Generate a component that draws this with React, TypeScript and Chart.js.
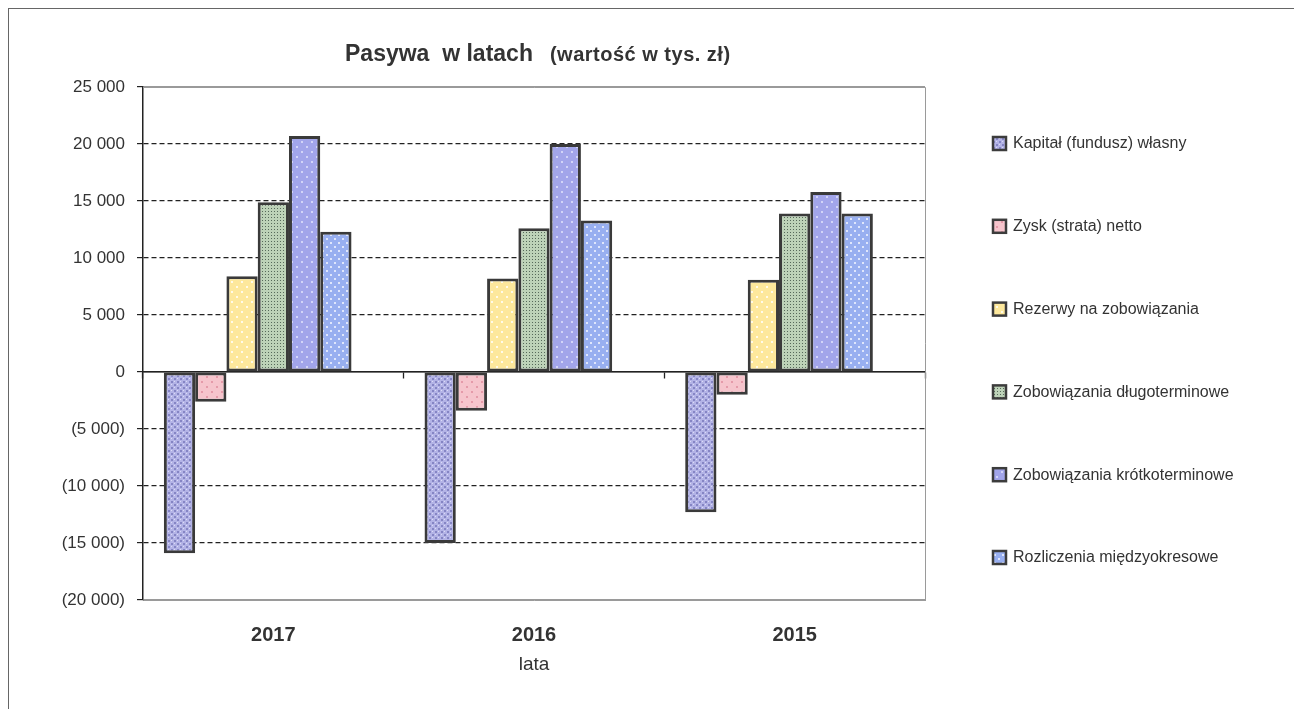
import React, { useEffect, useRef } from 'react';
import { Chart, registerables } from 'chart.js';

Chart.register(...registerables);

// ---- data ----
const years = ['2017', '2016', '2015'];
const seriesNames = [
  'Kapitał (fundusz) własny',
  'Zysk (strata) netto',
  'Rezerwy na zobowiązania',
  'Zobowiązania długoterminowe',
  'Zobowiązania krótkoterminowe',
  'Rozliczenia międzyokresowe',
];
const kapital = [-15900, -15000, -12300];
const zysk = [-2600, -3400, -2000];
const rezerwy = [8400, 8200, 8100];
const zobDlugo = [14900, 12600, 13900];
const zobKrotko = [20700, 20000, 15800];
const rozliczenia = [12300, 13300, 13900];
const emptySlot: (number | null)[] = [null, null, null]; // unused 7th series slot in the original
const yMin = -20000;
const yMax = 25000;
const yStep = 5000;
const titleMain = 'Pasywa  w latach';
const titleSub = '(wartość w tys. zł)';
const xTitle = 'lata';

const FONT = '"Liberation Sans", Arial, sans-serif';

function fmtThousands(v: number): string {
  const s = String(Math.abs(v)).replace(/\B(?=(\d{3})+(?!\d))/g, ' ');
  return v < 0 ? `(${s})` : s;
}

function makePattern(
  base: string,
  dot: string,
  size: number,
  dots: [number, number, number][],
  extra?: { color: string; pts: [number, number, number][] }
): CanvasPattern | string {
  const c = document.createElement('canvas');
  c.width = size;
  c.height = size;
  const g = c.getContext('2d');
  if (!g) return base;
  g.fillStyle = base;
  g.fillRect(0, 0, size, size);
  g.fillStyle = dot;
  dots.forEach(([x, y, r]) => g.fillRect(x, y, r, r));
  if (extra) {
    g.fillStyle = extra.color;
    extra.pts.forEach(([x, y, r]) => g.fillRect(x, y, r, r));
  }
  const ctx = document.createElement('canvas').getContext('2d');
  return (ctx && ctx.createPattern(c, 'repeat')) || base;
}

const titlePlugin = {
  id: 'twoPartTitle',
  afterDraw(chart: any) {
    const { ctx, chartArea } = chart;
    ctx.save();
    ctx.fillStyle = '#333';
    ctx.textBaseline = 'alphabetic';
    ctx.textAlign = 'left';
    ctx.font = `bold 23px ${FONT}`;
    const x0 = chartArea.left + 202;
    const y0 = chartArea.top - 26;
    ctx.fillText(titleMain, x0, y0);
    const w1 = ctx.measureText(titleMain).width;
    ctx.font = `bold 20px ${FONT}`;
    (ctx as any).letterSpacing = '0.5px';
    ctx.fillText(titleSub, x0 + w1 + 17, y0);
    ctx.restore();
  },
};

const framePlugin = {
  id: 'plotFrame',
  beforeDatasetsDraw(chart: any) {
    const { ctx, chartArea } = chart;
    ctx.save();
    ctx.strokeStyle = '#9a9a9a';
    ctx.lineWidth = 1;
    ctx.beginPath();
    ctx.moveTo(chartArea.left, chartArea.top + 0.5);
    ctx.lineTo(chartArea.right + 0.5, chartArea.top + 0.5);
    ctx.lineTo(chartArea.right + 0.5, chartArea.bottom);
    ctx.stroke();
    ctx.restore();
  },
};

const legendPlugin = {
  id: 'sideLegend',
  afterDraw(chart: any) {
    const { ctx, chartArea } = chart;
    const x = chartArea.right + 68;
    let y = chartArea.top + 56;
    const step = 82.8;
    ctx.save();
    ctx.font = `16px ${FONT}`;
    ctx.textBaseline = 'middle';
    ctx.textAlign = 'left';
    chart.data.datasets.forEach((ds: any) => {
      if (!ds.label) return;
      ctx.fillStyle = ds.backgroundColor;
      ctx.fillRect(x, y - 6, 13, 13);
      ctx.strokeStyle = '#3c3c3c';
      ctx.lineWidth = 2.5;
      ctx.strokeRect(x, y - 6, 13, 13);
      ctx.fillStyle = '#333';
      ctx.fillText(ds.label, x + 20, y + 1);
      y += step;
    });
    ctx.restore();
  },
};

export default function App() {
  const ref = useRef<HTMLCanvasElement | null>(null);

  useEffect(() => {
    document.documentElement.style.overflow = 'hidden';
    const canvas = ref.current;
    if (!canvas) return;

    const pKapital = makePattern('#b3b3e6', '#8585c4', 6, [[0, 0, 2], [3, 3, 2]], {
      color: '#dcdcf6',
      pts: [[3, 0, 1], [0, 3, 1]],
    });
    const pZysk = makePattern('#f6c4cc', '#e59aa9', 10, [[2, 2, 2], [7, 7, 2]]);
    const pRezerwy = makePattern('#fde89c', '#fffbe8', 10, [[2, 2, 2], [7, 7, 2]]);
    const pDlugo = makePattern('#bdd2b8', '#56695a', 3, [[1, 1, 1]]);
    const pKrotko = makePattern('#a2a5ea', '#d2d4f8', 10, [[2, 2, 2], [7, 7, 2]]);
    const pRozl = makePattern('#98aff0', '#dfe6fb', 8, [[1, 1, 2], [5, 5, 2]]);

    const values = [kapital, zysk, rezerwy, zobDlugo, zobKrotko, rozliczenia];
    const fills = [pKapital, pZysk, pRezerwy, pDlugo, pKrotko, pRozl];

    const datasets: any[] = values.map((data, i) => ({
      label: seriesNames[i],
      data,
      backgroundColor: fills[i],
      borderColor: '#3a3a3a',
      borderWidth: 3,
      borderSkipped: false,
      categoryPercentage: 0.84,
      barPercentage: 1,
    }));
    datasets.push({
      label: '',
      data: emptySlot,
      backgroundColor: 'transparent',
      borderWidth: 0,
      categoryPercentage: 0.84,
      barPercentage: 1,
    });

    const chart = new Chart(canvas, {
      type: 'bar',
      data: { labels: years, datasets },
      options: {
        animation: false,
        responsive: true,
        maintainAspectRatio: false,
        layout: { padding: { left: 0, top: 78, right: 377, bottom: 29 } },
        plugins: {
          legend: { display: false },
          tooltip: { enabled: false },
          title: { display: false },
        },
        scales: {
          x: {
            type: 'category',
            position: 'bottom',
            grid: { display: false },
            border: { display: true, color: '#9a9a9a', width: 1 },
            ticks: { color: '#333', font: { family: FONT, size: 20, weight: 'bold' }, padding: 15 },
            title: {
              display: true,
              text: xTitle,
              color: '#333',
              font: { family: FONT, size: 19 },
              padding: { top: 0, bottom: 4 },
            },
            afterFit: (s: any) => {
              s.height = 80;
            },
          },
          x2: {
            type: 'category',
            position: { y: 0 } as any,
            offset: true,
            grid: {
              display: true,
              offset: true,
              drawOnChartArea: false,
              drawTicks: true,
              tickLength: 6,
              tickColor: '#222',
              tickWidth: 1.3,
            },
            border: { display: true, color: '#222', width: 1.5 },
            ticks: { display: false },
          },
          y: {
            type: 'linear',
            min: yMin,
            max: yMax,
            ticks: {
              stepSize: yStep,
              color: '#333',
              font: { family: FONT, size: 17 },
              padding: 12,
              callback: (v: any) => fmtThousands(Number(v)),
            },
            grid: {
              color: (c: any) => {
                const v = c.tick?.value;
                return v === yMax || v === yMin ? '#9a9a9a' : '#222';
              },
              lineWidth: 1.2,
              drawTicks: true,
              tickLength: 6,
              tickColor: '#222',
              tickWidth: 1.2,
              tickBorderDash: [],
            },
            border: {
              display: true,
              color: '#222',
              width: 1.5,
              dash: (c: any) => {
                const v = c.tick?.value;
                if (v === undefined || v === yMax || v === yMin || v === 0) return [];
                return [5, 3];
              },
            },
            afterFit: (s: any) => {
              s.width = 134;
            },
          },
        },
      } as any,
      plugins: [framePlugin, titlePlugin, legendPlugin],
    });

    return () => chart.destroy();
  }, []);

  return (
    <div
      style={{
        boxSizing: 'border-box',
        width: 1294,
        height: 701,
        borderTop: '1px solid #666',
        borderLeft: '1px solid #666',
        background: '#fff',
      }}
    >
      <div style={{ position: 'relative', width: 1293, height: 700 }}>
        <canvas ref={ref} />
      </div>
    </div>
  );
}
